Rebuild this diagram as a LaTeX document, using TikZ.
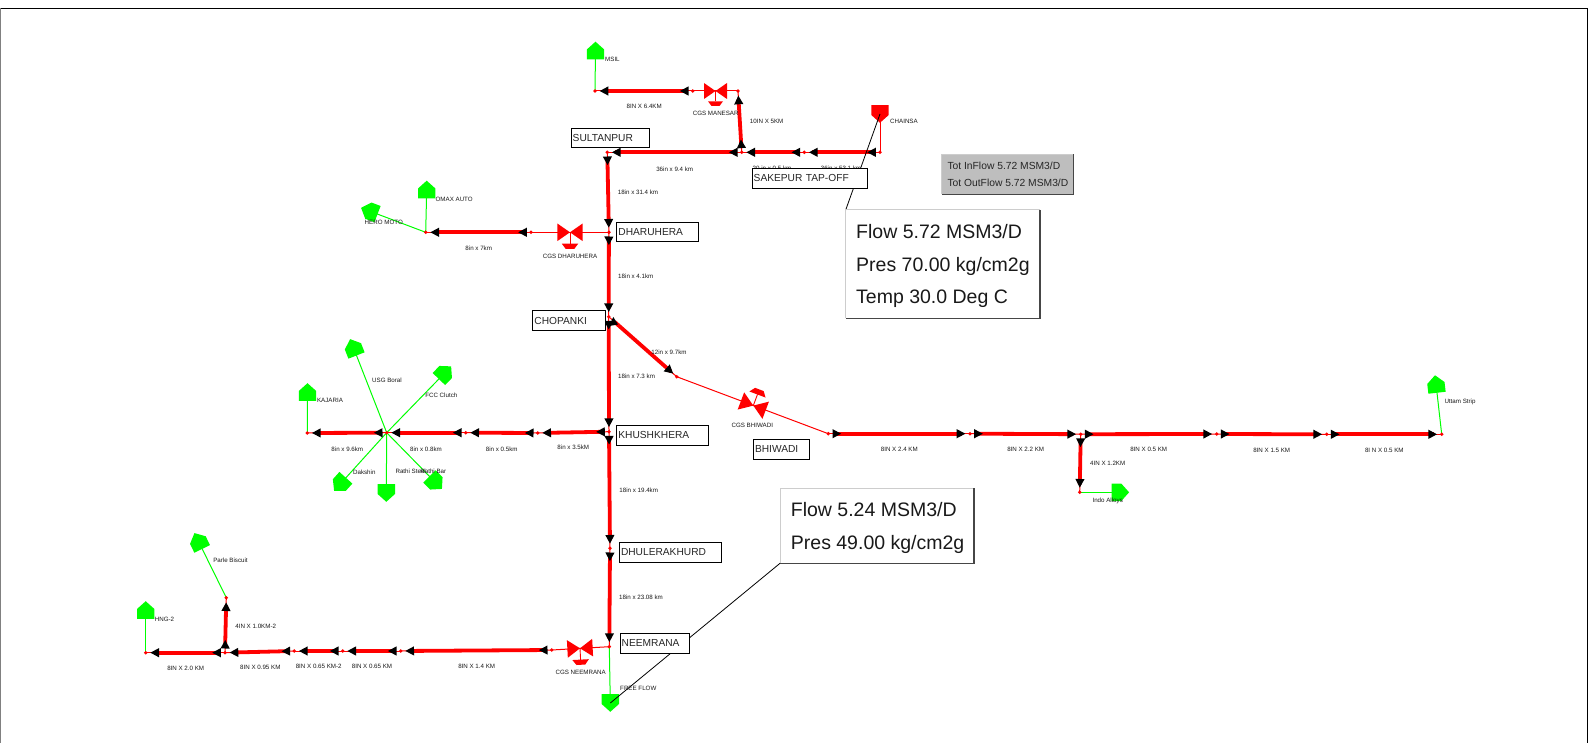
\documentclass[tikz,border=0pt]{standalone}
\usepackage{fontspec}
\setmainfont{Liberation Sans}
\usetikzlibrary{decorations.markings}
\definecolor{pipered}{RGB}{255,0,0}
\definecolor{feedgreen}{RGB}{0,255,0}
\definecolor{totgray}{RGB}{190,190,190}
\definecolor{edgedark}{RGB}{70,70,70}
\definecolor{edgelight}{RGB}{205,205,205}
\tikzset{
  pipeline/.style={pipered,line width=3.8pt,shorten <=8pt,shorten >=8pt},
  pipethin/.style={pipered,line width=1pt},
  feedline/.style={feedgreen,line width=1pt},
  callout/.style={black,line width=0.8pt},
  tag/.style={font=\fontsize{6.2}{7}\selectfont,text=black!90,inner sep=0pt,text height=4.5pt,text depth=0pt},
  labelbox/.style={draw=black,fill=white,line width=1pt,inner xsep=1.7pt,inner ysep=0pt,outer sep=0pt,anchor=north west,align=left,font=\fontsize{10.2}{12}\selectfont,text=black!85},
  infobox/.style={fill=white,inner sep=0pt,outer sep=0pt,anchor=north west},
  infotext/.style={font=\fontsize{19.5}{22}\selectfont,anchor=base west,inner sep=0pt,text=black!90},
  tottext/.style={font=\fontsize{10.3}{12}\selectfont,anchor=base west,inner sep=0pt,text=black!85},
  arrowmarks/.style={decorate,decoration={markings,
    mark=at position 8.5pt with {\fill[black] (4.3pt,0pt)--(-4.3pt,4.6pt)--(-4.3pt,-4.6pt)--cycle;},
    mark=at position -9pt with {\fill[black] (4.3pt,0pt)--(-4.3pt,4.6pt)--(-4.3pt,-4.6pt)--cycle;}}},
  endmark/.style={decorate,decoration={markings,
    mark=at position -9pt with {\fill[black] (4.3pt,0pt)--(-4.3pt,4.6pt)--(-4.3pt,-4.6pt)--cycle;}}}
}
\newcommand\pipe[2]{\draw[pipethin] (#1)--(#2);\draw[pipeline] (#1)--(#2);\path[arrowmarks] (#1)--(#2);}
\newcommand\dott[1]{\fill[pipered] (#1) circle[radius=1.9pt];}
\newcommand\house[3]{\fill[#3,shift={(#1)},rotate=#2] (-8.7,8.8)--(8.7,8.8)--(8.7,-1)--(0,-8.8)--(-8.7,-1)--cycle;}
\newcommand\valve[3]{\begin{scope}[shift={(#1)},rotate=#2,scale=#3]
  \fill[pipered] (-11.5,-8)--(0,0)--(-11.5,8)--cycle;
  \fill[pipered] (11.5,-8)--(0,0)--(11.5,8)--cycle;
  \draw[pipered,line width=0.9pt] (0,0)--(0,10.5);
  \fill[pipered] (-7.5,10.3)--(7.5,10.3)--(4,15)--(-4,15)--cycle;
\end{scope}}
\newcommand\lbox[6]{\pgfmathsetmacro\tw{#5-3.4}\node[labelbox,minimum width=#5pt,minimum height=#6pt,text width=\tw pt] (#1) at (#3,#4) {#2};}
\begin{document}
\begin{tikzpicture}[x=1pt,y=-1pt]
\useasboundingbox (0,0) rectangle (1588,743);
\fill[white] (0,0) rectangle (1588,743);
% frame
\coordinate (fTL) at (0,8.5);
\coordinate (fTR) at (1587.4,8.5);
\coordinate (fBL) at (0.4,743);
\coordinate (fBR) at (1587.4,743);
\draw[black,line width=1pt] (fTL)--(fTR)--(fBR);
\draw[gray,line width=1pt] (fBL)--(0.4,8.5);
% junctions
\coordinate (jMsil) at (595,91);
\coordinate (jMsilB) at (692.7,91);
\coordinate (jMan) at (738,91);
\coordinate (jSak) at (741.7,152.3);
\coordinate (jSul) at (607.3,152.3);
\coordinate (jChaB) at (804.3,152.3);
\coordinate (jCha) at (880,152.3);
\coordinate (jDha) at (608.9,232.3);
\coordinate (jDhaB) at (531,232.3);
\coordinate (jHero) at (425.7,232.3);
\coordinate (jCho) at (608.7,316.7);
\coordinate (jKhu) at (609,431.7);
\coordinate (jDhu) at (610,548.3);
\coordinate (jNee) at (609.3,646.7);
\coordinate (jNeeB) at (551.7,650);
\coordinate (jN1) at (400.7,651);
\coordinate (jN2) at (342.7,651);
\coordinate (jN3) at (294.3,651);
\coordinate (jN4) at (225,652.7);
\coordinate (jHng) at (145.7,652.7);
\coordinate (jParle) at (226.3,597.7);
\coordinate (jK1) at (537.7,433);
\coordinate (jK2) at (465.7,432.7);
\coordinate (jHub) at (386.7,432.7);
\coordinate (jKaj) at (307.3,433);
\coordinate (jBhiA) at (676.7,376.7);
\coordinate (jBhiB) at (828.3,433.7);
\coordinate (jB1) at (970,433.7);
\coordinate (jB2) at (1080.7,434.2);
\coordinate (jB3) at (1216.7,434);
\coordinate (jB4) at (1326.7,434.3);
\coordinate (jUttam) at (1441.7,434.3);
\coordinate (jIndo) at (1079.7,492.3);
% valves
\coordinate (vMan) at (715.5,91);
\coordinate (vDha) at (570,232.3);
\coordinate (vNee) at (580,648.3);
\coordinate (vBhi) at (753.3,405.6);
% houses
\coordinate (hMsil) at (595.5,50.5);
\coordinate (hCha) at (880,114);
\coordinate (hOmax) at (426.7,189.5);
\coordinate (hHero) at (369.3,211);
\coordinate (hUsg) at (353.3,347.3);
\coordinate (hFcc) at (445,372.7);
\coordinate (hKaj) at (307.5,392);
\coordinate (hDak) at (340,484.3);
\coordinate (hSte) at (386.3,493);
\coordinate (hBar) at (435.7,482.7);
\coordinate (hParle) at (198.3,541);
\coordinate (hHng) at (145.7,610);
\coordinate (hFree) at (610.3,703);
\coordinate (hIndo) at (1120.3,492.3);
\coordinate (hUttam) at (1436,384);
% green feeds
\draw[feedline] (jMsil)--(hMsil);
\draw[feedline] (jHero)--(hOmax);
\draw[feedline] (jHero)--(hHero);
\draw[feedline] (jHub)--(hUsg);
\draw[feedline] (jHub)--(hFcc);
\draw[feedline] (jHub)--(hDak);
\draw[feedline] (jHub)--(hSte);
\draw[feedline] (jHub)--(hBar);
\draw[feedline] (jKaj)--(hKaj);
\draw[feedline] (jParle)--(hParle);
\draw[feedline] (jHng)--(hHng);
\draw[feedline] (jNee)--(hFree);
\draw[feedline] (jIndo)--(hIndo);
\draw[feedline] (jUttam)--(hUttam);
% thin red
\draw[pipethin] (jMsilB)--(jMan);
\draw[pipethin] (jDha)--(jDhaB);
\draw[pipethin] (jNee)--(jNeeB);
\draw[pipethin] (jBhiA)--(jBhiB);
\draw[pipethin] (jCha)--(hCha);
% houses drawn
\house{hMsil}{0}{feedgreen}
\house{hCha}{180}{pipered}
\house{hOmax}{0}{feedgreen}
\house{hHero}{69}{feedgreen}
\house{hUsg}{21.4}{feedgreen}
\house{hFcc}{-44}{feedgreen}
\house{hKaj}{0}{feedgreen}
\house{hDak}{138}{feedgreen}
\house{hSte}{180}{feedgreen}
\house{hBar}{-135}{feedgreen}
\house{hParle}{26}{feedgreen}
\house{hHng}{0}{feedgreen}
\house{hFree}{180}{feedgreen}
\house{hIndo}{-90}{feedgreen}
\house{hUttam}{6.5}{feedgreen}
% valves drawn
\valve{vMan}{0}{1}
\valve{vDha}{0}{1.1}
\valve{vNee}{3}{1.1}
\valve{vBhi}{159.4}{1.15}
% pipe labels hidden behind the SAKEPUR box
\node[tag] (tA) at (772,168.5) {20 in x 0.5 km};
\node[tag] (tB) at (841,168.5) {36in x 53.1 km};
% pipes
\pipe{jCha}{jChaB}
\pipe{jChaB}{jSak}
\pipe{jSak}{jSul}
\pipe{jSak}{jMan}
\pipe{jMsilB}{jMsil}
\pipe{jSul}{jDha}
\pipe{jDha}{jCho}
\pipe{jCho}{jKhu}
\pipe{jKhu}{jDhu}
\pipe{jDhu}{jNee}
\pipe{jDhaB}{jHero}
\pipe{jKhu}{jK1}
\pipe{jK1}{jK2}
\pipe{jK2}{jHub}
\pipe{jHub}{jKaj}
\pipe{jNeeB}{jN1}
\pipe{jN1}{jN2}
\pipe{jN2}{jN3}
\pipe{jN3}{jN4}
\pipe{jN4}{jHng}
\pipe{jN4}{jParle}
\draw[pipethin] (jCho)--(jBhiA);
\draw[pipeline] (jCho)--(jBhiA);
\path[endmark] (jCho)--(jBhiA);
\fill[black] (613.3,317) -- (618,324.5) -- (609,326) -- cycle;
\pipe{jBhiB}{jB1}
\pipe{jB1}{jB2}
\pipe{jB2}{jB3}
\pipe{jB3}{jB4}
\pipe{jB4}{jUttam}
\pipe{jB2}{jIndo}
% dots
\foreach \j in {jMsil,jMsilB,jMan,jSak,jSul,jChaB,jCha,jDha,jDhaB,jHero,jCho,jKhu,jDhu,jNee,jNeeB,jN1,jN2,jN3,jN4,jHng,jParle,jK1,jK2,jHub,jKaj,jBhiA,jBhiB,jB1,jB2,jB3,jB4,jUttam,jIndo}{\dott{\j}}
% info boxes
\node[infobox,minimum width=194.3pt,minimum height=108.3pt] (flowA) at (845.7,210) {};
\node[infobox,minimum width=194pt,minimum height=75.3pt] (flowB) at (780,488) {};
\draw[callout] (hCha)--(flowA.north west);
\draw[callout] (hFree)--(flowB.south west);
\draw[edgelight,line width=1pt] (flowA.south west)--(flowA.north west)--(flowA.north east);
\draw[edgedark,line width=1.2pt] (flowA.north east)--(flowA.south east)--(flowA.south west);
\draw[edgelight,line width=1pt] (flowB.south west)--(flowB.north west)--(flowB.north east);
\draw[edgedark,line width=1.2pt] (flowB.north east)--(flowB.south east)--(flowB.south west);
\node[infotext] (a1) at (856,239) {Flow 5.72 MSM3/D};
\node[infotext] (a2) at (856,271.7) {Pres 70.00 kg/cm2g};
\node[infotext] (a3) at (856,304) {Temp 30.0 Deg C};
\node[infotext] (b1) at (790.7,516) {Flow 5.24 MSM3/D};
\node[infotext] (b2) at (790.7,549) {Pres 49.00 kg/cm2g};
\node[infobox,fill=totgray,minimum width=131.6pt,minimum height=40pt] (tot) at (941.7,154.3) {};
\draw[edgelight,line width=1pt] (tot.south west)--(tot.north west)--(tot.north east);
\draw[edgedark,line width=1.2pt] (tot.north east)--(tot.south east)--(tot.south west);
\node[tottext] (t1) at (947.3,170) {Tot InFlow 5.72 MSM3/D};
\node[tottext] (t2) at (947.3,186.7) {Tot OutFlow 5.72 MSM3/D};
% location boxes
\lbox{bSul}{SULTANPUR}{571}{128.7}{78.7}{19.3}
\lbox{bDha}{DHARUHERA}{616.7}{222.3}{82}{19.4}
\lbox{bSak}{SAKEPUR TAP-OFF}{752}{168.3}{115.3}{20}
\lbox{bCho}{CHOPANKI}{532.7}{310.7}{73}{19.6}
\lbox{bKhu}{KHUSHKHERA}{616.7}{425.7}{92}{19.3}
\lbox{bBhi}{BHIWADI}{753.3}{439.3}{56}{19.7}
\lbox{bDhu}{DHULERAKHURD}{619.3}{542.3}{102.4}{19.7}
\lbox{bNee}{NEEMRANA}{620}{633.3}{69}{19.7}
% small labels
\node[tag,anchor=west] (l1) at (605,59) {MSIL};
\node[tag] (l2) at (644.2,106.7) {8IN X 6.4KM};
\node[tag] (l3) at (715.7,113.7) {CGS MANESAR};
\node[tag] (l4) at (766.7,121.7) {10IN X 5KM};
\node[tag,anchor=west] (l5) at (890,121.7) {CHAINSA};
\node[tag] (l6) at (674.7,169) {36in x 9.4 km};
\node[tag] (l7) at (638,192.7) {18in x 31.4 km};
\node[tag] (l8) at (454.2,199.3) {OMAX AUTO};
\node[tag] (l9) at (383.8,222.7) {HERO MOTO};
\node[tag] (l10) at (478.7,248.7) {8in x 7km};
\node[tag] (l11) at (570,256.7) {CGS DHARUHERA};
\node[tag] (l12) at (635.8,276) {18in x 4.1km};
\node[tag] (l13) at (669,352.7) {12in x 9.7km};
\node[tag] (l14) at (636.5,376) {18in x 7.3 km};
\node[tag] (l15) at (387,380.7) {USG Boral};
\node[tag] (l16) at (441.3,395.7) {FCC Clutch};
\node[tag] (l17) at (330,400.7) {KAJARIA};
\node[tag] (l18) at (347.3,449) {8in x 9.6km};
\node[tag] (l19) at (426,449) {8in x 0.8km};
\node[tag] (l20) at (501.7,449) {8in x 0.5km};
\node[tag] (l21) at (573.3,447.7) {8in x 3.5kM};
\node[tag] (l22) at (364.3,472.7) {Dakshin};
\node[tag] (l23) at (410.7,471.7) {Rathi Steel};
\node[tag] (l24) at (433.3,471) {Rathi Bar};
\node[tag] (l25) at (638.7,490.7) {18in x 19.4km};
\node[tag] (l26) at (230.5,560.7) {Parle Biscuit};
\node[tag] (l27) at (164.5,619.3) {HNG-2};
\node[tag] (l28) at (255.7,626.7) {4IN X 1.0KM-2};
\node[tag] (l29) at (185.7,668.7) {8IN X 2.0 KM};
\node[tag] (l30) at (260.3,667.7) {8IN X 0.95 KM};
\node[tag] (l31) at (318.7,666.7) {8IN X 0.65 KM-2};
\node[tag] (l32) at (372,666.7) {8IN X 0.65 KM};
\node[tag] (l33) at (476.7,666.7) {8IN X 1.4 KM};
\node[tag] (l34) at (580.7,672.7) {CGS NEEMRANA};
\node[tag] (l35) at (641,597.7) {18in x 23.08 km};
\node[tag] (l36) at (638.3,688.7) {FREE FLOW};
\node[tag] (l37) at (752.3,425.7) {CGS BHIWADI};
\node[tag] (l38) at (899.3,449.7) {8IN X 2.4 KM};
\node[tag] (l39) at (1025.7,449.7) {8IN X 2.2 KM};
\node[tag] (l40) at (1107.7,463.7) {4IN X 1.2KM};
\node[tag] (l41) at (1107.7,500) {Indo Alloys};
\node[tag] (l42) at (1148.7,449.7) {8IN X 0.5 KM};
\node[tag] (l43) at (1271.7,450.7) {8IN X 1.5 KM};
\node[tag] (l44) at (1384.3,450.7) {8I N X 0.5 KM};
\node[tag] (l45) at (1460,401.7) {Uttam Strip};
\end{tikzpicture}
\end{document}
